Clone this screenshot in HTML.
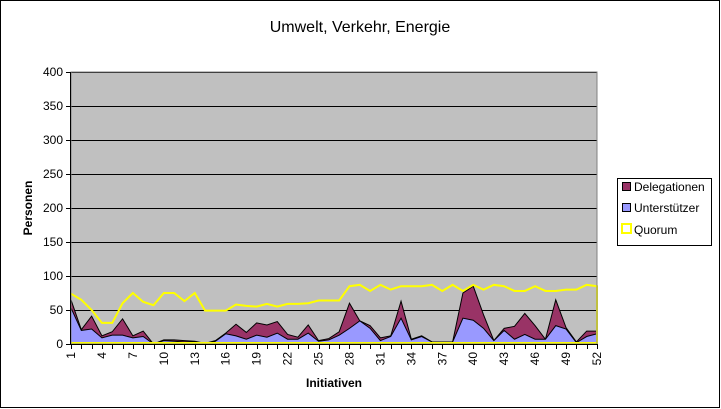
<!DOCTYPE html>
<html><head><meta charset="utf-8"><style>
body{margin:0;background:#fff}
svg{display:block;font-family:"Liberation Sans",Arial,sans-serif}
</style></head><body>
<svg id="s" width="721" height="409" xmlns="http://www.w3.org/2000/svg">
<rect x="0.5" y="0.5" width="719" height="407" fill="#fff" stroke="#000"/>
<text x="360" y="32" font-size="16" text-anchor="middle">Umwelt, Verkehr, Energie</text>
<rect x="71" y="72" width="526" height="272" fill="#c0c0c0"/>
<g id="grid"></g>
<g id="series"></g>
<rect x="71" y="72" width="526" height="272" fill="none" stroke="#808080"/>
<g id="axes"></g>
<text transform="translate(32,208) rotate(-90)" font-size="12" font-weight="bold" text-anchor="middle">Personen</text>
<text x="334" y="387" font-size="12" font-weight="bold" text-anchor="middle">Initiativen</text>
<rect x="617.5" y="178.5" width="94" height="67" fill="#fff" stroke="#000"/>
<rect x="622.5" y="182.5" width="8" height="8" fill="#993366" stroke="#000"/>
<text x="634" y="191" font-size="12">Delegationen</text>
<rect x="622.5" y="203.5" width="8" height="8" fill="#9999ff" stroke="#000"/>
<text x="634" y="212" font-size="12">Unterstützer</text>
<rect x="622" y="224" width="9" height="9" fill="none" stroke="#ffff00" stroke-width="2"/>
<text x="634" y="234" font-size="12">Quorum</text>
</svg>
<script>
var top_=[65,21,41,12,18,37,12,19,0,6,6,5,4,1,5,16,29,17,31,28,33,14,10,28,5,8,18,60,34,27,9,12,63,7,12,3,3,3,75,85,43,5,23,26,45,27,7,65,24,3,19,19];
var und=[53,20,22,9,13,13,9,11,0,5,4,3,3,0,4,15,12,7,13,10,16,7,7,16,4,6,13,23,34,23,5,11,38,6,11,3,3,3,38,35,23,5,20,7,14,7,7,27,22,2,11,15];
var q=[74,65,50,31,31,60,75,62,57,75,75,63,75,49,49,49,58,56,55,59,55,59,59,60,64,64,64,85,87,78,87,80,85,85,85,87,78,87,78,87,80,87,85,78,78,85,78,78,80,80,87,85];
function X(i){return 71+i*526/51}function Y(v){return 344-v*0.68}
var ns="http://www.w3.org/2000/svg";
function el(p,t,a){var e=document.createElementNS(ns,t);for(var k in a)e.setAttribute(k,a[k]);document.getElementById(p).appendChild(e);return e}
for(var v=50;v<=400;v+=50)el("grid","line",{x1:71,x2:597,y1:Y(v)+.5,y2:Y(v)+.5,stroke:"#000"});
function area(d,fill){var p="M"+X(0)+","+Y(0);d.forEach(function(v,i){p+="L"+X(i)+","+Y(v)});p+="L"+X(51)+","+Y(0)+"Z";el("series","path",{d:p,fill:fill,stroke:"#000","stroke-width":1})}
area(top_,"#993366");area(und,"#9999ff");
var p="";q.forEach(function(v,i){p+=(i?"L":"M")+X(i)+","+Y(v)});p+="L"+X(51)+","+Y(0);
el("series","path",{d:p,fill:"none",stroke:"#ffff00","stroke-width":2});
el("series","line",{x1:71,x2:597,y1:343,y2:343,stroke:"#ffff00","stroke-width":2});
el("axes","line",{x1:70.5,x2:70.5,y1:72,y2:344,stroke:"#000"});
el("axes","line",{x1:71,x2:597,y1:344.5,y2:344.5,stroke:"#000"});
for(var v=0;v<=400;v+=50){el("axes","line",{x1:66,x2:71,y1:Y(v)+.5,y2:Y(v)+.5,stroke:"#000"});var t=el("axes","text",{x:63,y:Y(v)+4,"font-size":12,"text-anchor":"end"});t.textContent=v}
for(var i=0;i<52;i++){el("axes","line",{x1:Math.round(X(i))+.5,x2:Math.round(X(i))+.5,y1:344,y2:349,stroke:"#000"});
if(i%3==0){var t=el("axes","text",{transform:"translate("+(X(i)+4)+",352) rotate(-90)","font-size":12,"text-anchor":"end"});t.textContent=i+1}}
</script>
</body></html>
